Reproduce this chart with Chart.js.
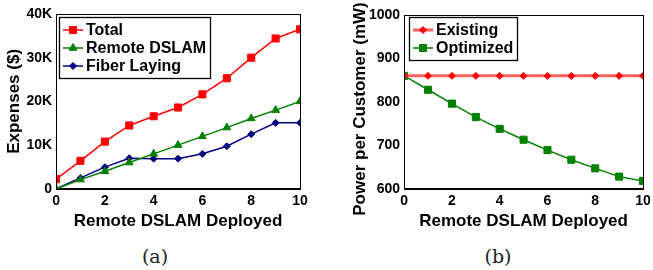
<!DOCTYPE html>
<html>
<head>
<meta charset="utf-8">
<script src="https://cdn.jsdelivr.net/npm/chart.js@4/dist/chart.umd.min.js"></script>
<style>
  body { margin: 0; background: #fff; width: 653px; height: 270px; overflow: hidden; position: relative; }
  .box { position: absolute; top: 0; height: 236px; }
  #wa { left: 0; width: 326px; }
  #wb { left: 326px; width: 327px; }
  .cap { position: absolute; top: 245px; font-family: "DejaVu Serif", "Liberation Serif", serif; font-size: 19px; color: #222; transform: translateX(-50%); }
</style>
</head>
<body>
<div class="box" id="wa"><canvas id="ca"></canvas></div>
<div class="box" id="wb"><canvas id="cb"></canvas></div>
<div class="cap" style="left:155px">(a)</div>
<div class="cap" style="left:498px">(b)</div>
<script>
const deployed = [0, 1, 2, 3, 4, 5, 6, 7, 8, 9, 10];
const totalCost = [2200, 6400, 10800, 14500, 16600, 18600, 21600, 25300, 30000, 34400, 36500];
const remoteCost = [0, 2100, 4000, 6000, 8000, 10000, 12000, 14000, 16100, 18000, 20000];
const fiberCost = [0, 2500, 4950, 7000, 6900, 6900, 8000, 9750, 12500, 15100, 15100];
const existingPower = [860, 860, 860, 860, 860, 860, 860, 860, 860, 860, 860];
const optimizedPower = [860, 828, 796, 765, 738, 713, 689, 667, 647, 628, 618];

const FONT = '"Liberation Sans", Arial, sans-serif';
Chart.defaults.font.family = FONT;
Chart.defaults.color = '#000';

const pts = (ys) => deployed.map((x, i) => ({ x: x, y: ys[i] }));

// frame round the plot, a boxed legend inside it, optional free y title
const frameLegend = {
  id: 'frameLegend',
  afterDraw(chart, args, opts) {
    const c = chart.ctx, a = chart.chartArea;
    c.save();
    c.strokeStyle = '#000';
    c.lineWidth = 1;
    c.strokeRect(Math.round(a.left) + 0.5, Math.round(a.top) + 0.5, Math.round(a.right - a.left), Math.round(a.bottom - a.top));
    c.font = 'bold 16px ' + FONT;
    const ds = chart.data.datasets;
    const w = Math.max(...ds.map(d => c.measureText(d.label).width)) + 31;
    const rowH = 18;
    const x0 = Math.round(a.left + opts.dx), y0 = Math.round(a.top + opts.dy);
    c.lineWidth = 1.3;
    c.strokeRect(x0 + 0.5, y0 + 0.5, Math.round(w), 25 + (ds.length - 1) * rowH);
    ds.forEach((d, i) => {
      const y = y0 + 13 + i * rowH;
      c.strokeStyle = d.borderColor;
      c.lineWidth = d.borderWidth;
      c.beginPath();
      c.moveTo(x0 + 4, y);
      c.lineTo(x0 + 24, y);
      c.stroke();
      c.fillStyle = d.pointBackgroundColor;
      c.strokeStyle = d.pointBorderColor;
      c.lineWidth = 1;
      Chart.helpers.drawPoint(c, { pointStyle: d.pointStyle, radius: d.pointRadius, borderWidth: 1 }, x0 + 14, y);
      c.fillStyle = '#000';
      c.textBaseline = 'middle';
      c.fillText(d.label, x0 + 27, y + 1);
    });
    if (opts.yTitle) {
      c.translate(opts.yTitle.x, opts.yTitle.y);
      c.rotate(-Math.PI / 2);
      c.font = 'bold 17px ' + FONT;
      c.textAlign = 'center';
      c.textBaseline = 'middle';
      c.fillText(opts.yTitle.text, 0, 0);
    }
    c.restore();
  }
};

const tickFont = { size: 14, weight: 'bold' };
const titleFont = { size: 17, weight: 'bold' };
const axisGrid = { display: false, drawOnChartArea: false, tickLength: 3, color: '#000' };

function scaleX() {
  return {
    type: 'linear', min: 0, max: 10,
    grid: axisGrid,
    border: { display: true, color: '#000' },
    ticks: { stepSize: 2, font: tickFont, padding: 1, maxRotation: 0 },
    title: { display: true, text: 'Remote DSLAM Deployed', font: titleFont, padding: { top: 1 } }
  };
}

function ds(label, data, color, style, r, bw, lineColor) {
  return {
    label: label, data: pts(data),
    borderColor: lineColor || color, backgroundColor: color,
    pointBorderColor: color, pointBackgroundColor: color,
    pointStyle: style, pointRadius: r, pointBorderWidth: 1,
    borderWidth: bw, tension: 0, fill: false
  };
}

new Chart(document.getElementById('ca'), {
  type: 'line',
  data: {
    datasets: [
      ds('Total', totalCost, '#ff0000', 'rect', 5, 1.5),
      ds('Remote DSLAM', remoteCost, '#008000', 'triangle', 4.5, 1.5),
      ds('Fiber Laying', fiberCost, '#000080', 'rectRot', 3.5, 1.5)
    ]
  },
  options: {
    responsive: true, maintainAspectRatio: false, animation: false,
    layout: { padding: { top: 14, right: 26, left: 0, bottom: 0 } },
    plugins: { legend: { display: false }, tooltip: { enabled: false }, frameLegend: { dx: 3, dy: 3 } },
    scales: {
      x: scaleX(),
      y: {
        min: 0, max: 40000,
        grid: axisGrid,
        border: { display: true, color: '#000' },
        ticks: { stepSize: 10000, font: tickFont, padding: 1,
          callback: v => v === 0 ? '0' : (v / 1000) + 'K' },
        title: { display: true, text: 'Expenses ($)', font: titleFont, padding: { bottom: 1 } }
      }
    }
  },
  plugins: [frameLegend]
});

new Chart(document.getElementById('cb'), {
  type: 'line',
  data: {
    datasets: [
      ds('Existing', existingPower, '#ff0000', 'rectRot', 3.5, 3, '#ff6060'),
      ds('Optimized', optimizedPower, '#008000', 'rect', 5, 1.5)
    ]
  },
  options: {
    responsive: true, maintainAspectRatio: false, animation: false,
    layout: { padding: { top: 15, right: 10, left: 42, bottom: 0 } },
    plugins: {
      legend: { display: false }, tooltip: { enabled: false },
      frameLegend: { dx: 5, dy: 2, yTitle: { text: 'Power per Customer (mW)', x: 34, y: 109 } }
    },
    scales: {
      x: scaleX(),
      y: {
        min: 600, max: 1000,
        grid: axisGrid,
        border: { display: true, color: '#000' },
        ticks: { stepSize: 100, font: tickFont, padding: 1, callback: v => String(v) }
      }
    }
  },
  plugins: [frameLegend]
});
</script>
</body>
</html>
